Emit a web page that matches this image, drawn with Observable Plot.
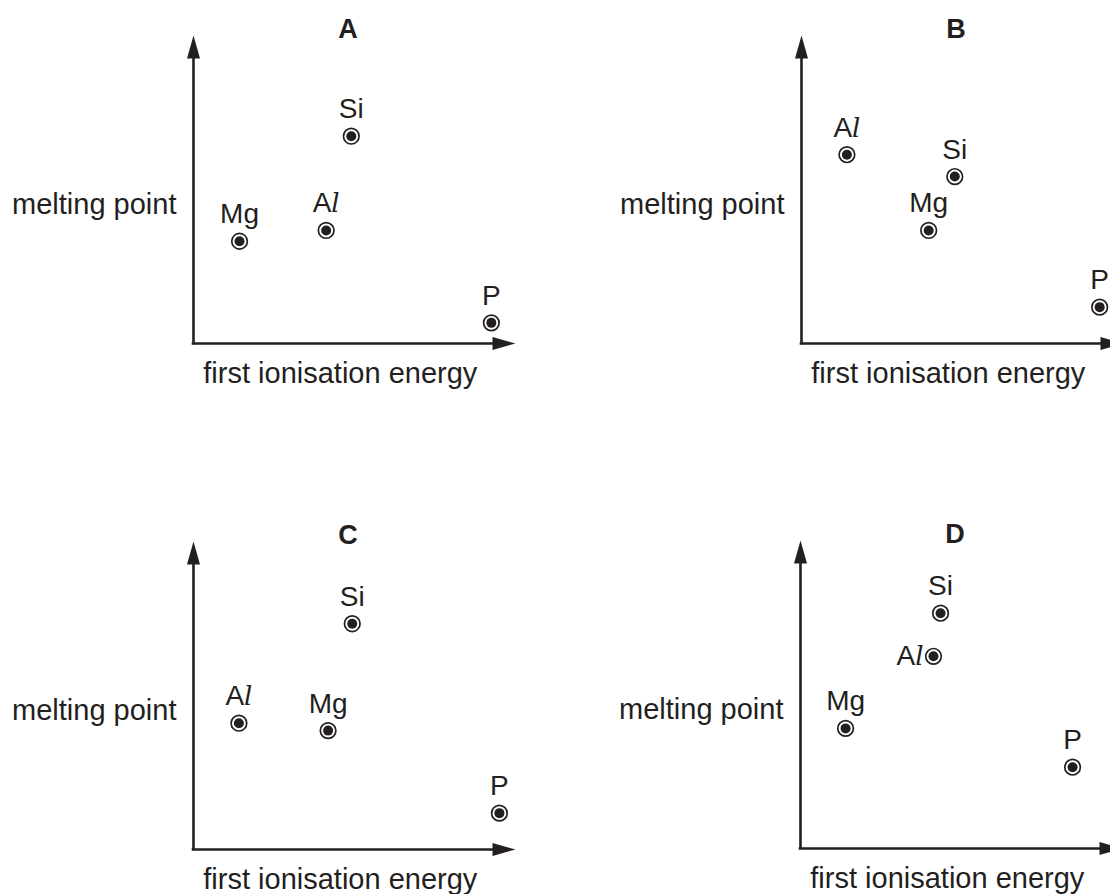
<!DOCTYPE html>
<html>
<head>
<meta charset="utf-8">
<script src="https://cdn.jsdelivr.net/npm/d3@7"></script>
<script src="https://cdn.jsdelivr.net/npm/@observablehq/plot@0.6"></script>
<style>
  html, body { margin: 0; padding: 0; background: #fff; overflow: hidden; }
  #page { position: relative; width: 1110px; height: 894px; overflow: hidden; background: #fff; }
  .panel { position: absolute; }
</style>
</head>
<body>
<div id="page"></div>
<script>
// ---- data (arbitrary units: axis origin = 0, arrow tip = 100) ----
const panelLetters = ["A", "B", "C", "D"];
const elements = ["Mg", "Al", "Si", "P"];
const ionisationA = [14.3, 41.2, 49.0, 92.5];
const meltingA    = [33.2, 36.7, 67.3, 6.7];
const ionisationB = [39.5, 14.1, 47.6, 92.6];
const meltingB    = [36.7, 61.3, 54.2, 11.8];
const ionisationC = [41.8, 14.1, 49.3, 95.0];
const meltingC    = [38.6, 41.0, 73.3, 11.8];
const ionisationD = [14.0, 41.3, 43.5, 84.5];
const meltingD    = [39.0, 62.4, 76.4, 26.4];
const xAxisLabel = "first ionisation energy";
const yAxisLabel = "melting point";

// ---- layout (not data) ----
const ink = "#231f20";
const font = "'Liberation Sans', Arial, Helvetica, sans-serif";
const panelOffsets = [[0, 0], [608, 0], [0, 506], [607, 505]];
const leftLabelPanels = {D: ["Al"]}; // labels placed to the left of their point

const ionisation = [ionisationA, ionisationB, ionisationC, ionisationD];
const melting = [meltingA, meltingB, meltingC, meltingD];

const arrowHead = {
  draw(ctx) {
    ctx.moveTo(0, 0);
    ctx.lineTo(-6.5, 23);
    ctx.lineTo(6.5, 23);
    ctx.closePath();
  }
};

const page = document.getElementById("page");

panelLetters.forEach((letter, i) => {
  const data = elements.map((name, j) => ({
    name,
    ie: ionisation[i][j],
    mp: melting[i][j],
    left: (leftLabelPanels[letter] || []).includes(name)
  }));

  const chart = Plot.plot({
    width: 555,
    height: 447,
    marginLeft: 193,
    marginRight: 40,
    marginTop: 35,
    marginBottom: 104,
    x: {domain: [0, 100], axis: null},
    y: {domain: [0, 100], axis: null},
    style: {fontFamily: font, background: "transparent", overflow: "visible", maxWidth: "none", color: ink},
    marks: [
      Plot.ruleY([0], {x1: 0, x2: 97, stroke: ink, strokeWidth: 2.6, strokeLinecap: "square"}),
      Plot.ruleX([0], {y1: 0, y2: 97, stroke: ink, strokeWidth: 2.6, strokeLinecap: "square"}),
      Plot.dot([{x: 0, y: 100}], {x: "x", y: "y", symbol: arrowHead, fill: ink, stroke: "none", r: 5}),
      Plot.dot([{x: 100, y: 0}], {x: "x", y: "y", symbol: arrowHead, fill: ink, stroke: "none", r: 5, rotate: 90}),
      // axis titles
      Plot.text([xAxisLabel], {x: () => 45.6, y: () => 0, text: d => d, fontSize: 29, fill: ink, lineAnchor: "middle", dy: 30}),
      Plot.text([yAxisLabel], {x: () => 0, y: () => 45, text: d => d, fontSize: 29, fill: ink, textAnchor: "end", lineAnchor: "middle", dx: -17}),
      // panel letter
      Plot.text([letter], {x: () => 48, y: () => 102.1, text: d => d, fontSize: 27, fontWeight: "bold", fill: ink, lineAnchor: "middle"}),
      // markers
      Plot.dot(data, {x: "ie", y: "mp", r: 7.8, fill: "white", stroke: ink, strokeWidth: 1.7}),
      Plot.dot(data, {x: "ie", y: "mp", r: 5, fill: ink, stroke: "none"}),
      // point labels
      Plot.text(data.filter(d => !d.left), {x: "ie", y: "mp", text: "name", fontSize: 28, fill: ink, lineAnchor: "bottom", dy: -18}),
      Plot.text(data.filter(d => d.left), {x: "ie", y: "mp", text: "name", fontSize: 28, fill: ink, textAnchor: "end", lineAnchor: "middle", dx: -10})
    ]
  });

  // italic "l" in Al
  chart.querySelectorAll("text").forEach(t => {
    if (t.textContent === "Al") {
      t.textContent = "A";
      const ts = document.createElementNS("http://www.w3.org/2000/svg", "tspan");
      ts.setAttribute("font-family", "'DejaVu Serif', 'Liberation Serif', serif");
      ts.setAttribute("font-style", "italic");
      ts.setAttribute("font-size", "26");
      ts.textContent = "l";
      t.appendChild(ts);
    }
  });

  const div = document.createElement("div");
  div.className = "panel";
  div.style.left = panelOffsets[i][0] + "px";
  div.style.top = panelOffsets[i][1] + "px";
  div.appendChild(chart);
  page.appendChild(div);
});
</script>
</body>
</html>
